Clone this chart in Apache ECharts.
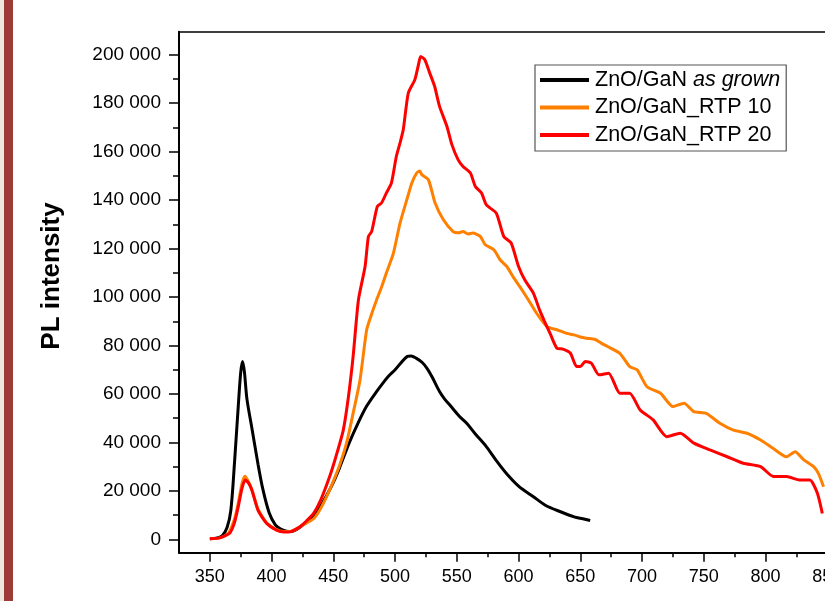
<!DOCTYPE html>
<html>
<head>
<meta charset="utf-8">
<script src="https://cdn.jsdelivr.net/npm/echarts@6/dist/echarts.min.js"></script>
<style>html,body{margin:0;padding:0;background:#fff}#c{width:825px;height:601px}</style>
</head>
<body>
<div id="c"></div>
<script>
// ---- Data (wavelength nm, PL intensity) ----
const seriesNames = ['ZnO/GaN as grown', 'ZnO/GaN_RTP 10', 'ZnO/GaN_RTP 20'];

const grownX = [350,355,360,364,367,370,373,375,376.5,378,380,384,389,393,398,403,407,412,416,420,425,430,435,440,445,450,455,463,470,477,485,490,495,500,505,510,513,517,522,526,530,536,540,545,552,558,565,574,582,590,600,612,622,634,645,652,658];
const grownY = [300,500,1500,5000,12000,32000,55000,69000,73400,69000,58000,46000,31000,20500,11000,6000,4400,3400,3200,4000,5800,8000,10500,14000,18500,23500,29500,40000,48000,55000,61000,64400,67500,70000,73000,75500,75700,74800,73000,70500,67000,61000,58000,55000,50800,47900,43500,38200,32500,27300,22000,17600,14000,11400,9300,8500,7800];

const rtp10X = [350,358,365,370,373,376,378.5,381,384,389,396,404,410,415,420,425,434,440,447,455,460.7,466,471.6,477,481,485,489,493,498.6,504,509.4,513.5,517.5,520,521.6,527,532.4,539,547,551,555,559,563,569,573,580,585,590.5,596,601,608,615,623,631,639,645,650,655,662,667,672,682,690,696,704,715,725,734,742,752,763,774,785,796,806,817,824,831,839,843,847];
const rtp10Y = [300,600,2500,8500,15000,23000,26000,24000,20500,12500,6800,4000,3300,3300,4200,5800,8500,13000,20400,30500,39700,52000,65800,86500,93000,98800,104000,110000,118000,130500,140000,147000,151200,152000,150500,148400,138800,132000,127000,126500,127000,126000,126400,125000,121600,119500,115400,112600,108000,104300,98800,93000,87800,86500,85000,84400,83500,83000,82500,81000,79600,76800,71300,70000,63000,60300,54800,56200,52700,52000,47900,45100,43800,41000,37600,34100,36200,32800,30000,27000,21700];

const rtp20X = [350,358,366,370,373,376,378.5,381,384,389,396,404,410,415,420,423,428,434,440,447,452,458,462,466,470.3,475.7,478.4,481,485.6,489,493,497,501,504,506.6,510.7,516,519,520.7,524,528,532,536,542,546,551,555,561,565,570,574,582,588,594,600,605,612,617,621,625.5,631,636,642,647,650,654,659,665,673,682,690,698.5,709,720,731,742,755,769,782,796,806.5,817,828,836,842,846];
const rtp20Y = [300,600,2500,7000,13500,21000,24500,23500,20400,12000,6600,3800,3000,3100,4300,5200,7500,10700,16500,25900,34000,45000,58000,75400,98800,112600,125000,127000,137400,138800,143000,147000,158000,163600,169000,184200,189700,196000,199300,198000,192500,187000,178700,170400,162900,156700,153900,151200,145600,142900,138000,134600,125000,122300,112600,107100,101600,94700,90000,85000,78900,78500,76800,71300,71300,73400,72700,67900,68600,60300,60300,53400,49300,42400,43800,39700,36900,34100,31400,30000,25900,25900,24500,24500,19000,10700];

const xMajorTicks = [350,400,450,500,550,600,650,700,750,800,850,900];
const xMinorTicks = [375,425,475,525,575,625,675,725,775,825,875];
const yMajorTicks = [0,20000,40000,60000,80000,100000,120000,140000,160000,180000,200000];
const yMinorTicks = [10000,30000,50000,70000,90000,110000,130000,150000,170000,190000];

const seriesColors = ['#000000', '#ff8000', '#ff0000'];

function pairs(xs, ys) { return xs.map((x, i) => [x, ys[i]]); }
function fmtThousands(v) { return String(v).replace(/\B(?=(\d{3})+(?!\d))/g, ' '); }

const FONT = 'Liberation Sans, Arial, Helvetica, sans-serif';
const chart = echarts.init(document.getElementById('c'), null, {renderer: 'canvas'});

const baseX = {type: 'value', min: 325, max: 900, gridIndex: 0, splitLine: {show: false}};
const baseY = {type: 'value', min: -5500, max: 209500, gridIndex: 0, splitLine: {show: false}};

chart.setOption({
  animation: false,
  backgroundColor: '#ffffff',
  textStyle: {fontFamily: FONT},
  grid: {left: 179, top: 31.7, width: 710, height: 521, containLabel: false, outerBoundsMode: 'none'},
  graphic: [
    {type: 'rect', shape: {x: 0, y: 0, width: 4, height: 601}, style: {fill: '#ece8de'}, silent: true},
    {type: 'rect', shape: {x: 4, y: 0, width: 9, height: 601}, style: {fill: '#9c3b37'}, silent: true},
    {type: 'text', x: 52, y: 276, rotation: Math.PI / 2,
     style: {text: 'PL intensity', font: 'bold 26px ' + FONT, fill: '#000', align: 'center', verticalAlign: 'middle'}}
  ],
  xAxis: [
    Object.assign({}, baseX, {
      position: 'bottom',
      axisLine: {show: true, onZero: false, lineStyle: {color: '#000', width: 2}},
      axisTick: {show: true, inside: false, length: 9, lineStyle: {color: '#000', width: 1.5}, customValues: xMajorTicks},
      axisLabel: {show: true, margin: 15, color: '#000', fontSize: 18, fontFamily: FONT, customValues: xMajorTicks}
    }),
    Object.assign({}, baseX, {
      position: 'bottom',
      axisLine: {show: false, onZero: false},
      axisTick: {show: true, inside: false, length: 4.5, lineStyle: {color: '#000', width: 1.5}, customValues: xMinorTicks},
      axisLabel: {show: false}
    }),
    Object.assign({}, baseX, {
      position: 'top',
      axisLine: {show: true, onZero: false, lineStyle: {color: '#000', width: 1.5}},
      axisTick: {show: false},
      axisLabel: {show: false}
    })
  ],
  yAxis: [
    Object.assign({}, baseY, {
      position: 'left',
      axisLine: {show: true, onZero: false, lineStyle: {color: '#000', width: 2}},
      axisTick: {show: true, inside: false, length: 10, lineStyle: {color: '#000', width: 1.5}, customValues: yMajorTicks},
      axisLabel: {show: true, margin: 18, color: '#000', fontSize: 19, fontFamily: FONT, customValues: yMajorTicks, formatter: fmtThousands}
    }),
    Object.assign({}, baseY, {
      position: 'left',
      axisLine: {show: false, onZero: false},
      axisTick: {show: true, inside: false, length: 6, lineStyle: {color: '#000', width: 1.5}, customValues: yMinorTicks},
      axisLabel: {show: false}
    })
  ],
  legend: {
    show: true,
    left: 535, top: 65,
    orient: 'vertical',
    backgroundColor: '#ffffff',
    borderColor: '#555555', borderWidth: 1.2,
    padding: [4, 6, 5, 5],
    itemGap: 5.5,
    icon: 'rect',
    itemWidth: 49, itemHeight: 4,
    data: seriesNames,
    formatter: function (name) { return name === seriesNames[0] ? 'ZnO/GaN {i|as grown}' : name; },
    textStyle: {fontSize: 21.5, color: '#000', fontFamily: FONT, lineHeight: 22, padding: [0, 0, 0, 1],
      rich: {i: {fontStyle: 'italic', fontSize: 21.5, color: '#000', fontFamily: FONT, lineHeight: 22}}}
  },
  series: [
    {name: seriesNames[0], type: 'line', xAxisIndex: 0, yAxisIndex: 0, data: pairs(grownX, grownY), symbol: 'none', smooth: 0.3, lineStyle: {color: seriesColors[0], width: 3}, itemStyle: {color: seriesColors[0]}},
    {name: seriesNames[1], type: 'line', xAxisIndex: 0, yAxisIndex: 0, data: pairs(rtp10X, rtp10Y), symbol: 'none', smooth: 0.2, lineStyle: {color: seriesColors[1], width: 3}, itemStyle: {color: seriesColors[1]}},
    {name: seriesNames[2], type: 'line', xAxisIndex: 0, yAxisIndex: 0, data: pairs(rtp20X, rtp20Y), symbol: 'none', smooth: 0.2, lineStyle: {color: seriesColors[2], width: 3}, itemStyle: {color: seriesColors[2]}}
  ]
});
</script>
</body>
</html>
